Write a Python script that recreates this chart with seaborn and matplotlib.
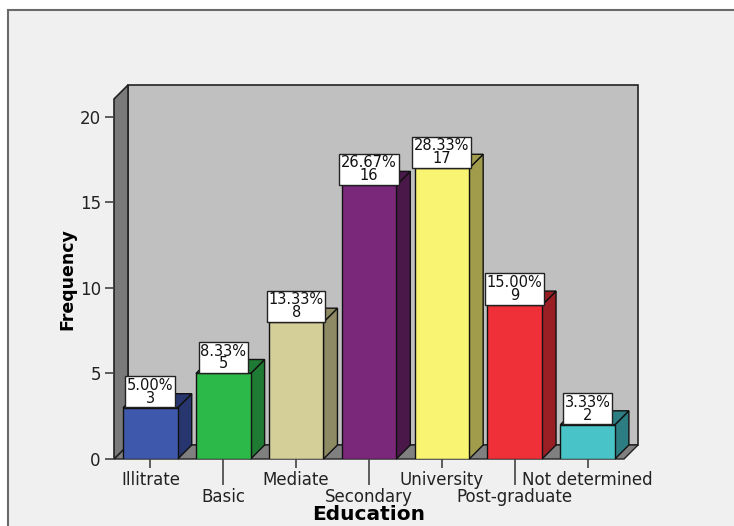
import numpy as np
import pandas as pd
import matplotlib
matplotlib.use("Agg")
import matplotlib.pyplot as plt
from matplotlib.patches import Polygon, Rectangle
import seaborn as sns

# Education level counts
categories = ["Illitrate", "Basic", "Mediate", "Secondary", "University",
              "Post-graduate", "Not determined"]
counts = [3, 5, 8, 16, 17, 9, 2]
front_colors = ["#3e58ac", "#2db84a", "#d4cf99", "#7a287a", "#f9f471",
                "#ef3038", "#48c3c8"]
side_colors = ["#27366e", "#1f7a33", "#8e8a64", "#4b184a", "#a09c4c",
               "#9a1f25", "#2c7e82"]
y_ticks = [0, 5, 10, 15, 20]

total = sum(counts)
percents = [100.0 * c / total for c in counts]

df = pd.DataFrame({"Education": categories, "Frequency": counts})

W, H = 734, 526
fig = plt.figure(figsize=(W / 100, H / 100), dpi=100, facecolor="white")

# panel background with frame
fig.patches.append(Rectangle((8 / W, -0.1), 1.2, 1 - 10 / H + 0.1,
                             transform=fig.transFigure, facecolor="#f0f0f0",
                             edgecolor="#6a6a6a", linewidth=1.5, zorder=-10))

ax_l, ax_r, ax_b, ax_t = 114, 624, 459, 99
ax = fig.add_axes([ax_l / W, (H - ax_b) / H, (ax_r - ax_l) / W, (ax_b - ax_t) / H])
ax.set_facecolor("none")

sns.barplot(data=df, x="Education", y="Frequency", hue="Education",
            palette=front_colors, legend=False, width=0.75,
            edgecolor="#111111", linewidth=1.0, saturation=1, ax=ax, zorder=5)

x0, x1 = -0.5, len(categories) - 0.5
ytop = 21.05
ax.set_xlim(x0, x1)
ax.set_ylim(0, ytop)

# depth of the 3D extrusion, in data units
depth_px = 14
dx = depth_px / ((ax_r - ax_l) / (x1 - x0))
dy = depth_px / ((ax_b - ax_t) / ytop)

edge = "#222222"
# back wall
ax.add_patch(Rectangle((x0 + dx, dy), x1 - x0, ytop, facecolor="#c0c0c0",
                       edgecolor=edge, linewidth=1.2, clip_on=False, zorder=0))
# floor
ax.add_patch(Polygon([(x0, 0), (x1, 0), (x1 + dx, dy), (x0 + dx, dy)],
                     facecolor="#808080", edgecolor=edge, linewidth=1.0,
                     clip_on=False, zorder=1))
# left wall
ax.add_patch(Polygon([(x0, 0), (x0, ytop), (x0 + dx, ytop + dy), (x0 + dx, dy)],
                     facecolor="#7a7a7a", edgecolor=edge, linewidth=1.2,
                     clip_on=False, zorder=1))

# side and top faces for each bar
bars = [p for p in ax.patches if isinstance(p, Rectangle) and p.get_zorder() == 5]
for bar, sc, pct, cnt in zip(bars, side_colors, percents, counts):
    bx, bw, bh = bar.get_x(), bar.get_width(), bar.get_height()
    ax.add_patch(Polygon([(bx + bw, 0), (bx + bw + dx, dy), (bx + bw + dx, bh + dy),
                          (bx + bw, bh)], facecolor=sc, edgecolor="#111111",
                         linewidth=1.0, clip_on=False, zorder=4))
    ax.add_patch(Polygon([(bx, bh), (bx + dx, bh + dy), (bx + bw + dx, bh + dy),
                          (bx + bw, bh)], facecolor=sc, edgecolor="#111111",
                         linewidth=1.0, clip_on=False, zorder=4))
    ax.annotate(f"{pct:.2f}%\n{cnt}", xy=(bx + bw / 2, bh), xytext=(0, 1.5),
                textcoords="offset points", ha="center", va="bottom",
                fontsize=10.5, linespacing=0.82, color="#111111", zorder=8,
                annotation_clip=False,
                bbox=dict(boxstyle="square,pad=0.12", facecolor="white",
                          edgecolor="#222222", linewidth=1.0))

for s in ax.spines.values():
    s.set_visible(False)

ax.set_yticks(y_ticks)
ax.tick_params(axis="y", length=6.5, width=1.2, color="#444444", pad=3,
               labelsize=12, labelcolor="#222222")
ax.set_xticks(range(len(categories)))
ax.set_xticklabels(categories)
ax.tick_params(axis="x", length=6.5, width=1.2, color="#444444", pad=2,
               labelsize=12, labelcolor="#222222")
for i, t in enumerate(ax.xaxis.get_major_ticks()):
    if i % 2 == 1:
        t.tick1line.set_markersize(19)
        t.label1.set_transform(t.label1.get_transform() +
                               matplotlib.transforms.ScaledTranslation(0, -17 / 100, fig.dpi_scale_trans))

ax.set_xlabel("Education", fontsize=14.5, fontweight="bold")
ax.set_ylabel("Frequency", fontsize=12.5, fontweight="bold")
ax.xaxis.set_label_coords(0.5, -0.128)
ax.yaxis.set_label_coords(-0.074, 0.5)
ax.xaxis.label.set_va("top")

fig.savefig("out.png", dpi=100, facecolor=fig.get_facecolor())
